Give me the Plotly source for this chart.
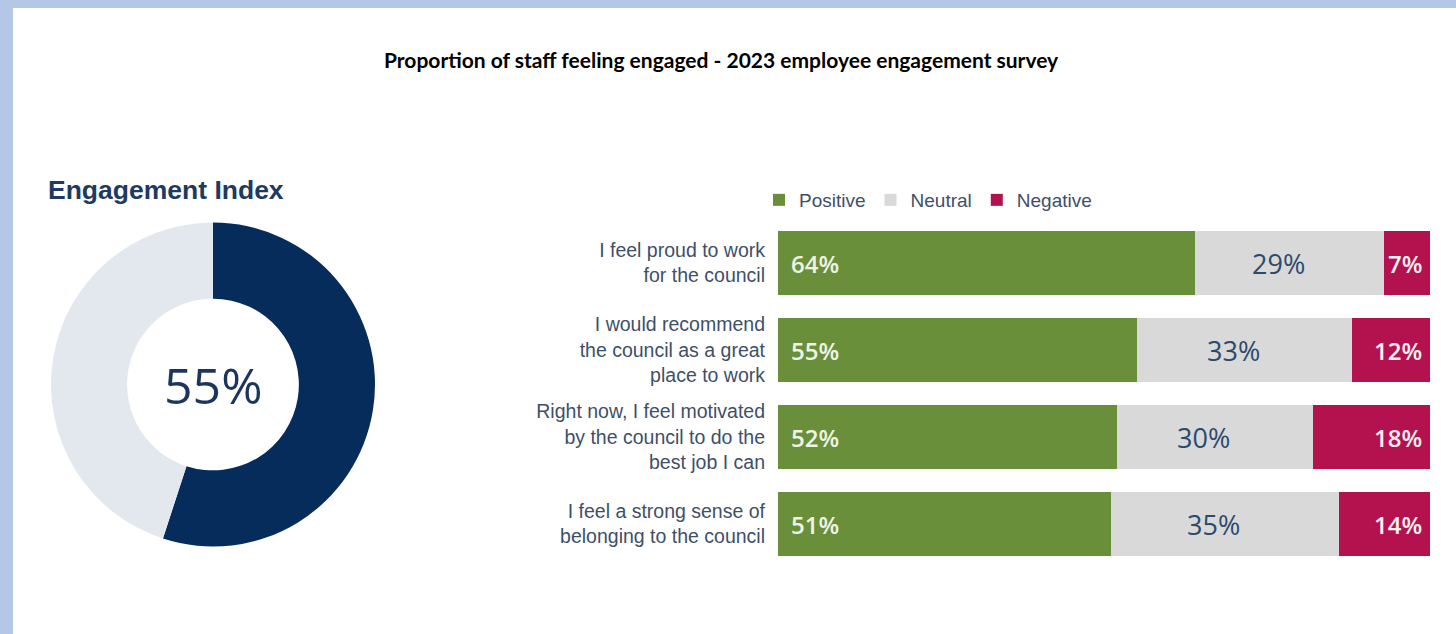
import plotly.graph_objects as go

# Survey data
statements = [
    "I feel proud to work<br>for the council",
    "I would recommend<br>the council as a great<br>place to work",
    "Right now, I feel motivated<br>by the council to do the<br>best job I can",
    "I feel a strong sense of<br>belonging to the council",
]
positive = [64, 55, 52, 51]
neutral = [29, 33, 30, 35]
negative = [7, 12, 18, 14]

engagement_index = 55
donut_labels = ["Engaged", "Not engaged"]
donut_values = [engagement_index, 100 - engagement_index]

title_text = "Proportion of staff feeling engaged - 2023 employee engagement survey"
panel_title = "Engagement Index"

# Colours
GREEN = "#6a8f3a"
GREY = "#d9d9d9"
MAGENTA = "#b3124f"
NAVY = "#062c5c"
DONUT_BG = "#e3e8ef"
LABEL_COL = "#3e4f69"
FRAME = "#b4c7e7"

W, H = 1456, 634

fig = go.Figure()

# Stacked horizontal bars
for name, vals, col in [("Positive", positive, GREEN),
                        ("Neutral", neutral, GREY),
                        ("Negative", negative, MAGENTA)]:
    fig.add_trace(go.Bar(
        y=statements, x=vals, name=name, orientation="h",
        marker=dict(color=col, line=dict(width=0)),
        hoverinfo="skip", xaxis="x", yaxis="y",
    ))

# Value labels on each segment
for i, s in enumerate(statements):
    p, n, g = positive[i], neutral[i], negative[i]
    fig.add_annotation(x=0, y=s, xref="x", yref="y", text=f"{p}%",
                       xanchor="left", xshift=11, showarrow=False,
                       font=dict(family="Open Sans", size=24, color="#eef3e6", weight=600))
    fig.add_annotation(x=p + n / 2, y=s, xref="x", yref="y", text=f"{n}%",
                       xanchor="center", xshift=-11, showarrow=False,
                       font=dict(family="Open Sans", size=27, color="#2b4a6e"))
    fig.add_annotation(x=p + n + g, y=s, xref="x", yref="y", text=f"{g}%",
                       xanchor="right", xshift=-6, showarrow=False,
                       font=dict(family="Open Sans", size=24, color="#fbeef3", weight=600))

# Engagement donut
cx, cy, r = 213, 384.5, 162
fig.add_trace(go.Pie(
    labels=donut_labels, values=donut_values, hole=0.53,
    marker=dict(colors=[NAVY, DONUT_BG], line=dict(width=0)),
    direction="clockwise", rotation=0, sort=False,
    textinfo="none", hoverinfo="skip", showlegend=False,
    domain=dict(x=[(cx - r) / W, (cx + r) / W],
                y=[(H - cy - r) / H, (H - cy + r) / H]),
))
fig.add_annotation(x=cx / W, y=(H - cy) / H, xref="paper", yref="paper",
                   xanchor="center", yanchor="middle",
                   text=f"{engagement_index}%", showarrow=False,
                   font=dict(family="Open Sans", size=50, color="#1b365d"))

fig.add_annotation(x=46 / W, y=(H - 190) / H, xref="paper", yref="paper",
                   text=f"<b>{panel_title}</b>", showarrow=False,
                   xanchor="left", yanchor="middle",
                   font=dict(family="Liberation Sans", size=26.5, color="#1f3a60"))

fig.add_annotation(x=721 / W, y=(H - 60) / H, xref="paper", yref="paper",
                   text=f"<b>{title_text}</b>", showarrow=False,
                   xanchor="center", yanchor="middle",
                   font=dict(family="Lato", size=21, color="#000000"))

# Light blue frame on top and left edges
fig.add_shape(type="rect", xref="paper", yref="paper", x0=0, x1=1,
              y0=(H - 8) / H, y1=1, fillcolor=FRAME, line=dict(width=0), layer="below")
fig.add_shape(type="rect", xref="paper", yref="paper", x0=0, x1=13 / W,
              y0=0, y1=1, fillcolor=FRAME, line=dict(width=0), layer="below")

x0, x1 = 778, 1430
ytop, ybot = 219.5, 567.5
fig.update_layout(
    width=W, height=H,
    margin=dict(l=0, r=0, t=0, b=0),
    paper_bgcolor="white", plot_bgcolor="white",
    barmode="stack", bargap=23 / 87,
    xaxis=dict(domain=[x0 / W, x1 / W], range=[0, 100], visible=False, fixedrange=True),
    yaxis=dict(domain=[(H - ybot) / H, (H - ytop) / H], autorange="reversed",
               showgrid=False, zeroline=False, showline=False, ticks="",
               ticklabelstandoff=12,
               tickfont=dict(family="Liberation Sans", size=19.5, color=LABEL_COL)),
    legend=dict(orientation="h", x=759 / W, y=(H - 200) / H, xanchor="left", yanchor="middle",
                font=dict(family="Liberation Sans", size=19, color=LABEL_COL),
                itemwidth=30, traceorder="normal", bgcolor="rgba(0,0,0,0)"),
    showlegend=True,
)

fig.write_html("out.html", config={"displayModeBar": False})
